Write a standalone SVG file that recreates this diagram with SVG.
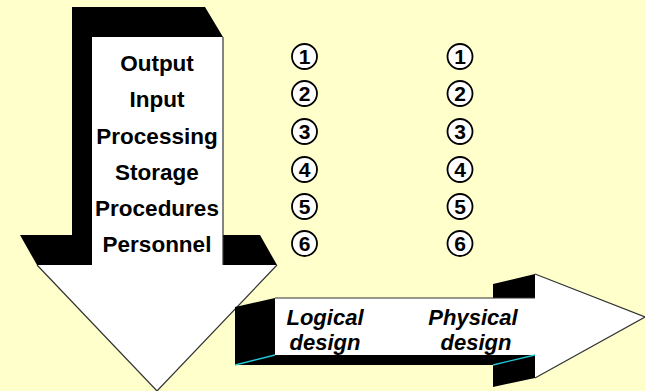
<svg xmlns="http://www.w3.org/2000/svg" width="645" height="391" viewBox="0 0 645 391">
  <style>
    .lbl { font-family: "Liberation Sans", Arial, sans-serif; font-weight: bold; font-size: 22.5px; fill: #000; text-anchor: middle; }
    .it { font-family: "Liberation Sans", Arial, sans-serif; font-weight: bold; font-style: italic; font-size: 22px; fill: #000; text-anchor: middle; }
    .num circle { fill: #fff; stroke: #000; stroke-width: 1.8; }
    .num text { font-family: "Liberation Sans", Arial, sans-serif; font-weight: bold; font-size: 21px; fill: #000; text-anchor: middle; }
    .blk { fill: #000; }
    .wht { fill: #fff; }
    .edge { fill: none; stroke: #333; stroke-width: 1.2; }
    .cyan { stroke: #22c8d8; stroke-width: 1.3; fill: none; }
  </style>
  <rect x="0" y="0" width="645" height="391" fill="#FFFFCC"/>

  <g id="down-arrow">
    <polygon class="blk" points="72,7 205,7 223,37 223,235 260,235 277,265 37,265 20,235 72,235"/>
    <polygon class="wht" points="92,37 223,37 223,265 277,265 157,391 37,265 92,265"/>
    <polyline class="edge" points="223,37 223,265"/>
    <polyline class="edge" points="37,265 157,391 277,265"/>
  </g>

  <g id="system-components">
    <text class="lbl" x="157" y="71">Output</text>
    <text class="lbl" x="157" y="107">Input</text>
    <text class="lbl" x="157" y="143.5">Processing</text>
    <text class="lbl" x="157" y="180">Storage</text>
    <text class="lbl" x="157" y="216">Procedures</text>
    <text class="lbl" x="157" y="252">Personnel</text>
  </g>

  <g id="right-arrow">
    <polygon class="blk" points="235,307 275,298 275,355 535,355 535,378 493,387 493,365 235,365"/>
    <polygon class="blk" points="493,284 535,274 535,298 493,298"/>
    <rect class="wht" x="275" y="298" width="260" height="57"/>
    <polygon class="wht" points="535,274 645,317 535,378"/>
    <line class="edge" x1="275" y1="298" x2="535" y2="298"/>
    <polyline class="edge" points="535,274 645,317 535,378"/>
    <line class="cyan" x1="235" y1="365" x2="275" y2="355"/>
    <line class="cyan" x1="493" y1="365" x2="535" y2="355"/>
    <text class="it" x="325" y="325">Logical</text>
    <text class="it" x="325" y="350">design</text>
    <text class="it" x="473" y="325">Physical</text>
    <text class="it" x="476" y="350">design</text>
  </g>

  <g id="logical-numbers" class="num">
    <g id="l1"><circle cx="304.5" cy="56.5" r="12.5"/><text x="304.5" y="64">1</text></g>
    <g id="l2"><circle cx="304.5" cy="93.5" r="12.5"/><text x="304.5" y="101">2</text></g>
    <g id="l3"><circle cx="304.5" cy="131.5" r="12.5"/><text x="304.5" y="139">3</text></g>
    <g id="l4"><circle cx="304.5" cy="169.5" r="12.5"/><text x="304.5" y="177">4</text></g>
    <g id="l5"><circle cx="304.5" cy="206.5" r="12.5"/><text x="304.5" y="214">5</text></g>
    <g id="l6"><circle cx="304.5" cy="243.5" r="12.5"/><text x="304.5" y="251">6</text></g>
  </g>

  <g id="physical-numbers" class="num">
    <g id="p1"><circle cx="460" cy="56.5" r="12.5"/><text x="460" y="64">1</text></g>
    <g id="p2"><circle cx="460" cy="93.5" r="12.5"/><text x="460" y="101">2</text></g>
    <g id="p3"><circle cx="460" cy="131.5" r="12.5"/><text x="460" y="139">3</text></g>
    <g id="p4"><circle cx="460" cy="169.5" r="12.5"/><text x="460" y="177">4</text></g>
    <g id="p5"><circle cx="460" cy="206.5" r="12.5"/><text x="460" y="214">5</text></g>
    <g id="p6"><circle cx="460" cy="243.5" r="12.5"/><text x="460" y="251">6</text></g>
  </g>
</svg>
